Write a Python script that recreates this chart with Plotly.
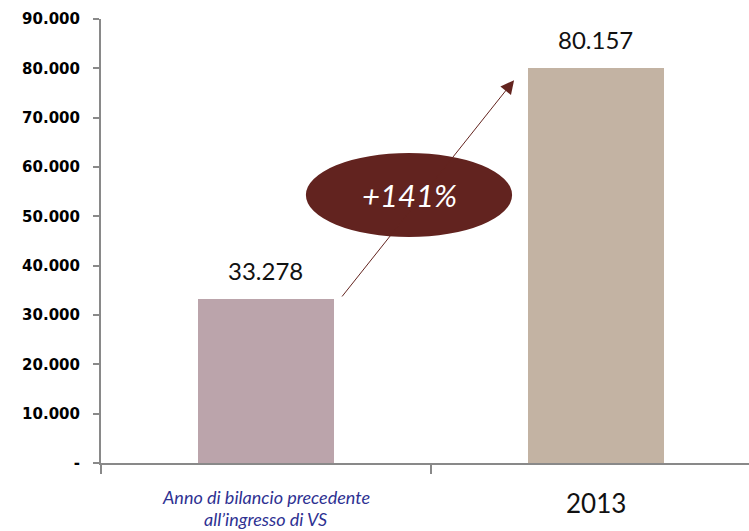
import plotly.graph_objects as go

# Data
categories = ["Anno di bilancio precedente<br>all’ingresso di VS", "2013"]
values = [33278, 80157]
bar_colors = ["#BBA4AB", "#C3B3A3"]
y_ticks = [0, 10000, 20000, 30000, 40000, 50000, 60000, 70000, 80000, 90000]


def fmt(v):
    # Italian style thousands separator, zero shown as a dash
    return "-" if v == 0 else f"{v:,}".replace(",", ".")


growth = round((values[1] / values[0] - 1) * 100)

fig = go.Figure()
fig.add_trace(go.Bar(
    x=[0, 1],
    y=values,
    marker=dict(color=bar_colors, line=dict(width=0)),
    width=0.41,
    hoverinfo="skip",
))

# value labels above bars
annotations = []
for i, v in enumerate(values):
    annotations.append(dict(
        x=i, y=v, xref="x", yref="y", text=fmt(v), showarrow=False,
        yanchor="middle", yshift=28,
        font=dict(family="Lato", size=24, color="#111111"),
    ))

# category labels (first one is italic blue, two lines)
for k, line in enumerate(categories[0].split("<br>")):
    annotations.append(dict(
        x=0, y=0, xref="x", yref="y", text="<i>" + line + "</i>",
        showarrow=False, yanchor="middle", yshift=-34 - 22 * k, borderpad=0,
        font=dict(family="Lato", size=18, color="#2E3192"),
    ))
annotations.append(dict(
    x=1, y=0, xref="x", yref="y", text=categories[1],
    showarrow=False, yanchor="middle", yshift=-40,
    font=dict(family="Lato", size=26, color="#111111"),
))

# growth arrow
annotations.append(dict(
    x=0.752, y=77600, ax=0.227, ay=33450,
    xref="x", yref="y", axref="x", ayref="y",
    text="", showarrow=True, arrowhead=2, arrowsize=2.7, arrowwidth=1,
    arrowcolor="#63241F",
))
annotations.append(dict(
    x=0.4335, y=54300, xref="x", yref="y", text=f"<i>+{growth}%</i>",
    showarrow=False, font=dict(family="Lato", size=31, color="white"),
))

fig.add_shape(
    type="circle", xref="x", yref="y",
    x0=0.121, x1=0.746, y0=45800, y1=62850,
    fillcolor="#62231F", line=dict(width=0), layer="above",
)

fig.update_layout(
    width=749, height=531,
    margin=dict(l=101, r=0, t=19, b=68),
    paper_bgcolor="white", plot_bgcolor="white",
    showlegend=False,
    bargap=0,
    annotations=annotations,
    xaxis=dict(
        type="linear", range=[-0.5, 1.464],
        showgrid=False, zeroline=False,
        showline=True, linecolor="#898989", linewidth=2,
        tickmode="array", tickvals=[-0.5, 0.5, 1.5], ticktext=["", "", ""],
        ticks="outside", ticklen=9, tickwidth=2, tickcolor="#898989",
        fixedrange=True,
    ),
    yaxis=dict(
        range=[0, 90000],
        showgrid=False, zeroline=False,
        showline=True, linecolor="#898989", linewidth=2,
        tickmode="array", tickvals=y_ticks, ticktext=[fmt(v) for v in y_ticks],
        ticks="outside", ticklen=6, tickwidth=2, tickcolor="#898989",
        ticklabelstandoff=10,
        tickfont=dict(family="DejaVu Sans", size=15, color="#000000", weight="bold"),
        fixedrange=True,
    ),
)

# drop the default page margin so the figure fills the window
fig.write_html(
    "out.html",
    config={"displayModeBar": False},
    post_script="document.body.style.margin='0';",
)
